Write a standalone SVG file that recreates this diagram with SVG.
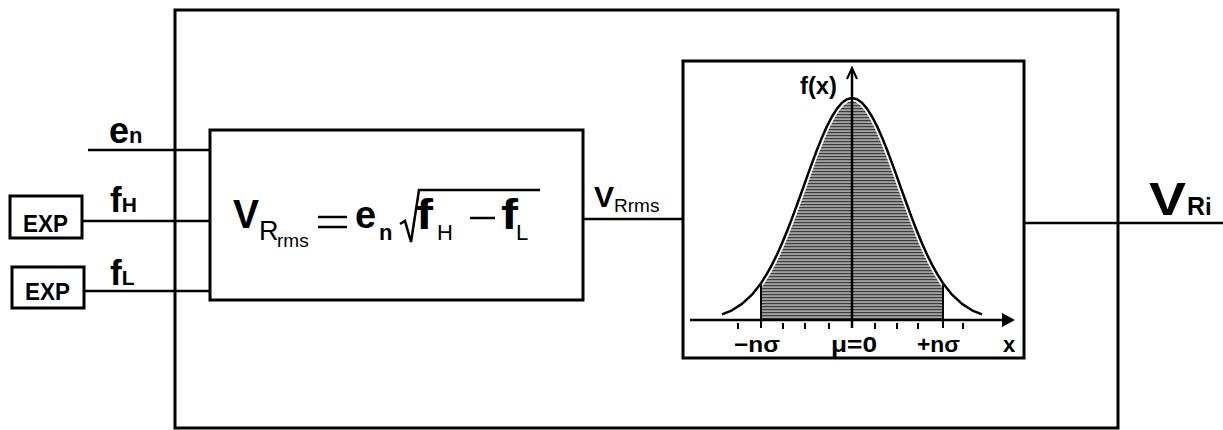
<svg xmlns="http://www.w3.org/2000/svg" width="1223" height="430" viewBox="0 0 1223 430">
<style>
.box{fill:none;stroke:#000;stroke-width:3}
.ln{stroke:#000;stroke-width:2.5;fill:none}
.t{font-family:"Liberation Sans",Arial,sans-serif;font-weight:bold;fill:#000}
.r{font-family:"Liberation Sans",Arial,sans-serif;font-weight:normal;fill:#000}
.tick{stroke:#000;stroke-width:2}
</style>
<defs>
<pattern id="shade" width="6" height="3" patternUnits="userSpaceOnUse">
<rect width="6" height="3" fill="#a2a2a2"/>
<rect width="6" height="1.2" fill="#3c3c3c"/>
</pattern>
</defs>
<rect width="1223" height="430" fill="#fff"/>

<g id="outer">
<rect class="box" x="175" y="10" width="943" height="418"/>
</g>

<g id="connectors">
<line class="ln" x1="88" y1="150" x2="210" y2="150"/>
<line class="ln" x1="82" y1="221" x2="210" y2="221"/>
<line class="ln" x1="84" y1="291" x2="210" y2="291"/>
<line class="ln" x1="583" y1="219" x2="683" y2="219"/>
<line class="ln" x1="1024" y1="223" x2="1223" y2="223"/>
</g>

<g id="labels">
<text class="t" x="109" y="143" font-size="36">e<tspan font-size="22">n</tspan></text>
<text class="t" x="110" y="212" font-size="35">f<tspan font-size="21">H</tspan></text>
<text class="t" x="110" y="285" font-size="35">f<tspan font-size="21">L</tspan></text>
<text class="t" x="594" y="207" font-size="30">V</text>
<text class="r" x="614" y="212" font-size="19">Rrms</text>
<text class="t" x="1149" y="215" font-size="47" textLength="37" lengthAdjust="spacingAndGlyphs">V</text>
<text class="t" x="1187" y="215" font-size="25">R<tspan font-size="24">i</tspan></text>
</g>

<g id="exp1">
<rect class="box" x="10" y="196" width="72" height="42"/>
<text class="t" x="23" y="232" font-size="24" textLength="45" lengthAdjust="spacingAndGlyphs">EXP</text>
</g>
<g id="exp2">
<rect class="box" x="12" y="267" width="72" height="41"/>
<text class="t" x="25" y="300" font-size="24" textLength="45" lengthAdjust="spacingAndGlyphs">EXP</text>
</g>

<g id="formula">
<rect class="box" x="210" y="130" width="373" height="170"/>
<text class="t" x="233" y="228" font-size="40" textLength="26" lengthAdjust="spacingAndGlyphs">V</text>
<text class="r" x="259" y="240" font-size="27">R</text>
<text class="r" x="277" y="247" font-size="19">rms</text>
<line x1="318" y1="217" x2="347" y2="217" stroke="#000" stroke-width="2.5"/>
<line x1="318" y1="227" x2="347" y2="227" stroke="#000" stroke-width="2.5"/>
<text class="t" x="355" y="228" font-size="38">e</text>
<text class="t" x="379" y="240" font-size="22">n</text>
<path d="M400,224 L405,221 L411,242 L419,190 L540,190" fill="none" stroke="#000" stroke-width="2.5" stroke-linejoin="miter"/>
<text class="t" x="416" y="229" font-size="42" textLength="17" lengthAdjust="spacingAndGlyphs">f</text>
<text class="r" x="437" y="240" font-size="22">H</text>
<line x1="470" y1="218" x2="495" y2="218" stroke="#000" stroke-width="2.5"/>
<text class="t" x="501" y="229" font-size="42" textLength="17" lengthAdjust="spacingAndGlyphs">f</text>
<text class="r" x="516" y="240" font-size="22">L</text>
</g>

<g id="distribution">
<rect class="box" x="683" y="61" width="341" height="297"/>
<path d="M761,320 L761,283.2 L762,281.7 L767,273.7 L772,264.6 L777,254.5 L782,243.3 L787,231.2 L792,218.4 L797,204.8 L802,191 L807,176.9 L812,163.1 L817,149.8 L822,137.4 L827,126.1 L832,116.5 L837,108.6 L842,102.8 L847,99.2 L852,98 L857,99.2 L862,102.8 L867,108.6 L872,116.5 L877,126.1 L882,137.4 L887,149.8 L892,163.1 L897,176.9 L902,191 L907,204.8 L912,218.4 L917,231.2 L922,243.3 L927,254.5 L932,264.6 L937,273.7 L942,281.7 L943,283.2 L943,320 Z" fill="url(#shade)"/>
<path d="M722,314.3 L732,310.3 L742,303.9 L752,294.7 L761,283.2 L762,281.7 L767,273.7 L772,264.6 L777,254.5 L782,243.3 L787,231.2 L792,218.4 L797,204.8 L802,191 L807,176.9 L812,163.1 L817,149.8 L822,137.4 L827,126.1 L832,116.5 L837,108.6 L842,102.8 L847,99.2 L852,98 L857,99.2 L862,102.8 L867,108.6 L872,116.5 L877,126.1 L882,137.4 L887,149.8 L892,163.1 L897,176.9 L902,191 L907,204.8 L912,218.4 L917,231.2 L922,243.3 L927,254.5 L932,264.6 L937,273.7 L942,281.7 L943,283.2 L952,294.7 L962,303.9 L972,310.3 L982,314.3" fill="none" stroke="#fff" stroke-width="6" stroke-linejoin="round"/>
<path d="M722,314.3 L732,310.3 L742,303.9 L752,294.7 L761,283.2 L762,281.7 L767,273.7 L772,264.6 L777,254.5 L782,243.3 L787,231.2 L792,218.4 L797,204.8 L802,191 L807,176.9 L812,163.1 L817,149.8 L822,137.4 L827,126.1 L832,116.5 L837,108.6 L842,102.8 L847,99.2 L852,98 L857,99.2 L862,102.8 L867,108.6 L872,116.5 L877,126.1 L882,137.4 L887,149.8 L892,163.1 L897,176.9 L902,191 L907,204.8 L912,218.4 L917,231.2 L922,243.3 L927,254.5 L932,264.6 L937,273.7 L942,281.7 L943,283.2 L952,294.7 L962,303.9 L972,310.3 L982,314.3" fill="none" stroke="#000" stroke-width="2.5" stroke-linejoin="round"/>
<line x1="690" y1="320" x2="1006" y2="320" stroke="#000" stroke-width="2.5"/>
<polygon points="1002,313 1015,320 1002,327" fill="#000"/>
<line x1="852" y1="328" x2="852" y2="70" stroke="#000" stroke-width="2.5"/>
<path d="M847,79 L852,68 L857,79" fill="none" stroke="#000" stroke-width="2"/>
<line class="tick" x1="761" y1="283" x2="761" y2="328"/>
<line class="tick" x1="943" y1="283" x2="943" y2="328"/>
<line class="tick" x1="738" y1="323" x2="738" y2="329"/>
<line class="tick" x1="783" y1="323" x2="783" y2="329"/>
<line class="tick" x1="805" y1="323" x2="805" y2="329"/>
<line class="tick" x1="829" y1="323" x2="829" y2="329"/>
<line class="tick" x1="875" y1="323" x2="875" y2="329"/>
<line class="tick" x1="897" y1="323" x2="897" y2="329"/>
<line class="tick" x1="918" y1="323" x2="918" y2="329"/>
<line class="tick" x1="963" y1="323" x2="963" y2="329"/>
<text class="t" x="800" y="94" font-size="23" textLength="37" lengthAdjust="spacingAndGlyphs">f(x)</text>
<text class="t" x="734" y="352" font-size="22" textLength="46" lengthAdjust="spacingAndGlyphs">−nσ</text>
<text class="t" x="831" y="352" font-size="22" textLength="46" lengthAdjust="spacingAndGlyphs">μ=0</text>
<text class="t" x="917" y="352" font-size="22" textLength="43" lengthAdjust="spacingAndGlyphs">+nσ</text>
<text class="t" x="1003" y="352" font-size="22">x</text>
</g>
</svg>
